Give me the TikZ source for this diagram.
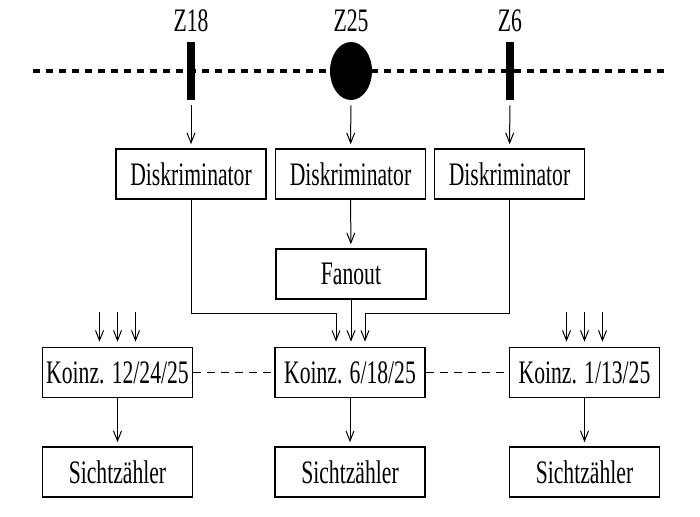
\documentclass[tikz,border=0pt]{standalone}
\usepackage{fontspec}
\setmainfont{Liberation Serif}[FakeStretch=0.66]
\usepackage{tikz}
\usetikzlibrary{calc, positioning, arrows.meta, shapes.geometric}

\begin{document}
\begin{tikzpicture}[x=0.5pt, y=-0.5pt, >={Straight Barb[length=5pt, width=4pt]},
  font=\fontsize{16.4}{18}\selectfont,
  box/.style={draw, line width=0.8pt, minimum width=75pt, minimum height=25pt, inner sep=1pt},
  sig/.style={->, line width=0.5pt, shorten >=2pt},
  beam/.style={line width=2pt, dash pattern=on 3.5pt off 3pt},
  link/.style={line width=0.8pt, dash pattern=on 4pt off 3pt},
  bar/.style={fill, inner sep=0pt, minimum width=4pt, minimum height=29pt}]
  \useasboundingbox (0,0) rectangle (700,516);

  % beam line and counters
  \coordinate (bl) at (33,71);
  \coordinate (br) at (667,71);
  \draw[beam] (bl) -- (br);
  \node[bar] (z18) at (191,71) {};
  \node[bar, ellipse, minimum width=21pt] (z25) at (351,71) {};
  \node[bar] (z6) at (510,71) {};
  \node[above=4.5pt of z18, inner sep=0pt] (l18) {Z18};
  \node[above=4.5pt of z25, inner sep=0pt] (l25) {Z25};
  \node[above=4.5pt of z6, inner sep=0pt] (l6) {Z6};

  % discriminators
  \node[box] (d18) at (191,174) {Diskriminator};
  \node[box] (d25) at (350.5,174) {Diskriminator};
  \node[box] (d6) at (509.5,174) {Diskriminator};
  \draw[sig, shorten <=2.5pt] (z18) -- (d18);
  \draw[sig, shorten <=2.5pt] (z25) -- (d25);
  \draw[sig, shorten <=2.5pt] (z6) -- (d6);

  \node[box] (fan) at (351,274) {Fanout};
  \draw[sig] (d25) -- (fan);

  % coincidences
  \node[box] (k12) at (117.5,372.5) {Koinz. 12/24/25};
  \node[box] (k6) at (350,372.5) {Koinz. 6/18/25};
  \node[box] (k1) at (584.5,372.5) {Koinz. 1/13/25};
  \coordinate (jl) at (336,313);
  \coordinate (jr) at (365,313);
  \draw[sig, shorten >=2.5pt] (d18) |- (jl) -- (jl |- k6.north);
  \draw[sig, shorten >=2.5pt] (d6) |- (jr) -- (jr |- k6.north);
  \draw[sig, shorten >=2.5pt] (fan) -- (fan |- k6.north);
  \foreach \dx [count=\i] in {-18,0,18} {
    \coordinate (a\i) at ($(k12.north)+(\dx,-35)$);
    \coordinate (b\i) at ($(k1.north)+(\dx,-35)$);
    \draw[sig, shorten >=2.5pt] (a\i) -- (a\i |- k12.north);
    \draw[sig, shorten >=2.5pt] (b\i) -- (b\i |- k1.north);
  }
  \draw[link] (k12) -- (k6);
  \draw[link] (k6) -- (k1);

  % view counters
  \node[box] (s12) at (117.5,472) {Sichtzähler};
  \node[box] (s6) at (350,472) {Sichtzähler};
  \node[box] (s1) at (584.5,472) {Sichtzähler};
  \draw[sig] (k12) -- (s12);
  \draw[sig] (k6) -- (s6);
  \draw[sig] (k1) -- (s1);
\end{tikzpicture}
\end{document}
